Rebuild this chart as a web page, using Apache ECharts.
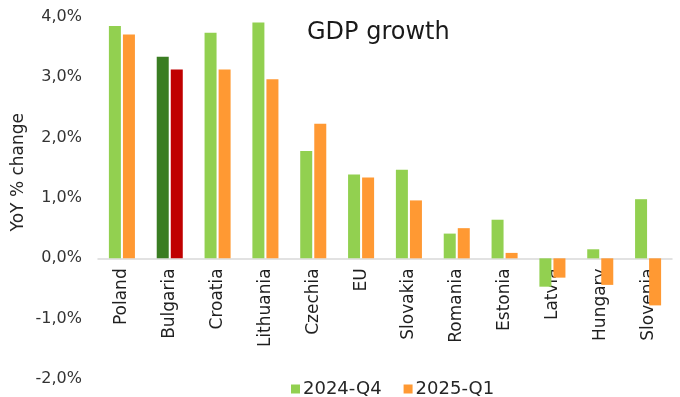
<!DOCTYPE html>
<html><head><meta charset="utf-8">
<script src="https://cdn.jsdelivr.net/npm/echarts@6/dist/echarts.min.js"></script>
<style>html,body{margin:0;padding:0;background:#fff}#c{width:680px;height:397px}</style>
</head><body><div id="c"></div>
<script>
const categories = ['Poland','Bulgaria','Croatia','Lithuania','Czechia','EU','Slovakia','Romania','Estonia','Latvia','Hungary','Slovenia'];
const q4_2024 = [3.85, 3.34, 3.74, 3.91, 1.78, 1.39, 1.47, 0.41, 0.64, -0.47, 0.15, 0.98];
const q1_2025 = [3.71, 3.13, 3.13, 2.97, 2.23, 1.34, 0.96, 0.50, 0.09, -0.32, -0.44, -0.78];
const seriesNames = ['2024-Q4', '2025-Q1'];
const highlightCategory = 'Bulgaria';
const yMin = -2, yMax = 4;

const FONT = '"DejaVu Sans", sans-serif';
const GREEN = '#92D050', ORANGE = '#FF9933', DKGREEN = '#3A7D22', RED = '#C00000';

function build(vals, hl) {
  return vals.map((v, i) => categories[i] === highlightCategory
    ? { value: v, itemStyle: { color: hl } } : v);
}

const gridTop = 17, gridBottom = 18, H = 397;
const plotH = H - gridTop - gridBottom;
const zeroOffset = -plotH * (0 - yMin) / (yMax - yMin);

const chart = echarts.init(document.getElementById('c'));
chart.setOption({
  animation: false,
  title: { text: 'GDP growth', left: 302, top: 16,
    textStyle: { fontFamily: FONT, fontSize: 24, fontWeight: 'normal', color: '#1a1a1a' } },
  grid: { left: 98, right: 8, top: gridTop, bottom: gridBottom, containLabel: false, outerBoundsMode: 'none' },
  legend: { top: 375, left: 286, itemWidth: 9, itemHeight: 9, itemGap: 22, icon: 'rect',
    textStyle: { fontFamily: FONT, fontSize: 18, color: '#262626', padding: [0, 0, 0, -2] }, data: seriesNames },
  xAxis: { type: 'category', data: categories, position: 'bottom', offset: zeroOffset,
    axisLine: { onZero: false, lineStyle: { color: '#d9d9d9', width: 1.5 } },
    axisTick: { show: false },
    axisLabel: { rotate: 90, interval: 0, margin: 10, fontFamily: FONT, fontSize: 17, color: '#1f1f1f' } },
  yAxis: { type: 'value', min: yMin, max: yMax, interval: 1,
    splitLine: { show: false }, axisLine: { show: false }, axisTick: { show: false },
    axisLabel: { margin: 16, fontFamily: FONT, fontSize: 16, color: '#333',
      formatter: v => v.toFixed(1).replace('.', ',') + '%' } },
  graphic: [{ type: 'text', left: 10, top: 113, rotation: Math.PI / 2,
    style: { text: 'YoY % change', fontFamily: FONT, fontSize: 17, fill: '#262626' } }],
  series: [
    { name: seriesNames[0], type: 'bar', barWidth: 12, barGap: '17%', itemStyle: { color: GREEN },
      data: build(q4_2024, DKGREEN) },
    { name: seriesNames[1], type: 'bar', barWidth: 12, itemStyle: { color: ORANGE },
      data: build(q1_2025, RED) }
  ]
});
</script></body></html>
